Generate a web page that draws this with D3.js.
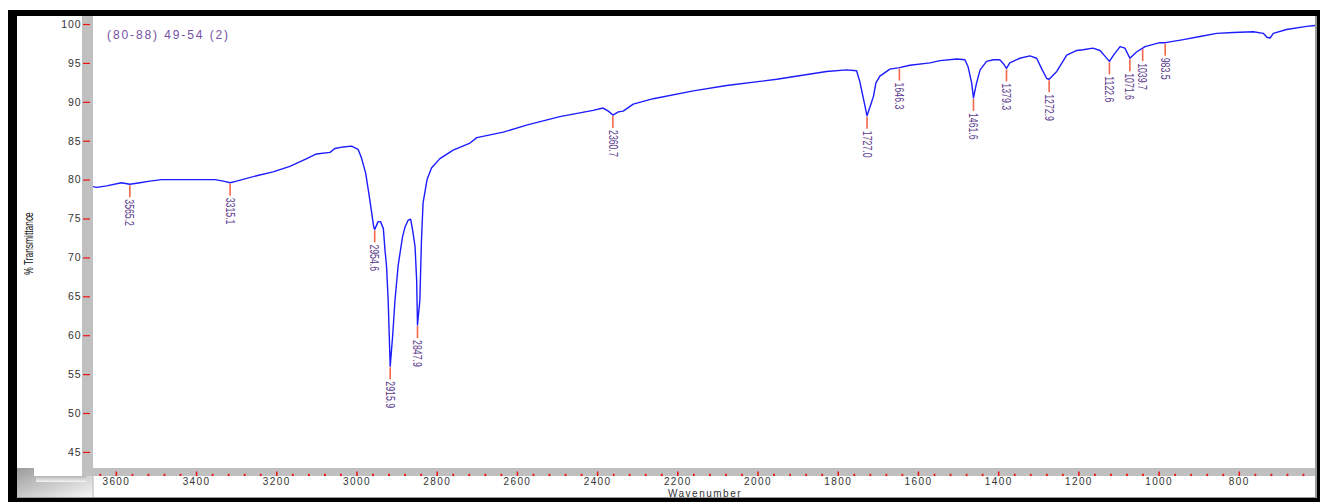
<!DOCTYPE html>
<html>
<head>
<meta charset="utf-8">
<script src="https://cdn.jsdelivr.net/npm/d3@7/dist/d3.min.js"></script>
<style>
  html, body { margin: 0; padding: 0; background: #fff; }
  svg { display: block; }
</style>
</head>
<body>
<svg id="chart" width="1320" height="502"></svg>
<script>
// FT-IR spectrum: wavenumber (cm-1) against % transmittance
const sampleName = "(80-88) 49-54 (2)";

const wavenumber = [
  3657, 3648, 3623, 3586, 3565.2, 3540, 3515, 3486, 3415, 3353, 3332, 3315.1, 3299,
  3249, 3208, 3166, 3124, 3100, 3066, 3054, 3033, 3012, 2996, 2987, 2977, 2968,
  2962, 2957, 2954.6, 2946, 2940, 2933, 2929, 2925, 2921, 2918, 2915.9, 2910, 2904,
  2896, 2885, 2879, 2871, 2865, 2860, 2854, 2850, 2847.9, 2842, 2838, 2834, 2824,
  2813, 2792, 2759, 2717, 2700, 2634, 2576, 2493, 2410, 2385, 2372, 2360.7, 2347,
  2335, 2310, 2260, 2160, 2077, 1952, 1828, 1778, 1753, 1745, 1736, 1727.0, 1718,
  1711, 1705, 1695, 1670, 1646.3, 1620, 1570, 1545, 1503, 1483, 1475, 1466, 1461.6,
  1454, 1445, 1429, 1412, 1396, 1387, 1379.3, 1371, 1346, 1321, 1304, 1292, 1279,
  1272.9, 1254, 1229, 1204, 1188, 1164, 1146, 1136, 1122.6, 1111, 1096, 1084, 1071.6,
  1055, 1039.7, 1034, 997, 983.5, 938, 897, 855, 814, 764, 739, 730, 722, 714, 681,
  631, 610
];

const transmittance = [
  79.1, 79.0, 79.2, 79.6, 79.4, 79.6, 79.8, 80.0, 80.0, 80.0, 79.8, 79.6, 79.8,
  80.5, 81.0, 81.7, 82.7, 83.3, 83.5, 84.0, 84.2, 84.3, 83.9, 82.7, 80.8, 77.8,
  75.7, 73.9, 73.6, 74.6, 74.6, 73.7, 71.0, 68.8, 64.5, 59.4, 56.0, 59.8, 64.5,
  69.0, 72.7, 73.9, 74.8, 74.9, 73.5, 71.4, 67.1, 61.3, 64.5, 72.2, 77.0, 80.0,
  81.5, 82.7, 83.8, 84.7, 85.4, 86.1, 87.0, 88.1, 88.9, 89.2, 88.8, 88.3, 88.7,
  88.8, 89.7, 90.4, 91.4, 92.1, 92.9, 93.9, 94.1, 94.0, 92.6, 90.4, 88.2, 89.6,
  90.7, 92.4, 93.3, 94.2, 94.4, 94.7, 95.0, 95.3, 95.5, 95.4, 94.5, 92.4, 90.5,
  92.4, 94.1, 95.2, 95.4, 95.4, 94.9, 94.3, 95.0, 95.6, 95.9, 95.6, 94.3, 93.0,
  92.9, 93.9, 96.0, 96.6, 96.7, 96.9, 96.6, 96.0, 95.2, 96.1, 97.1, 96.9, 95.6,
  96.4, 96.9, 97.1, 97.6, 97.6, 98.0, 98.4, 98.8, 98.9, 99.0, 98.8, 98.3, 98.2, 98.8, 99.3,
  99.7, 99.8
];

// Picked peaks (labelled positions)
const peakWavenumbers = [3565.2, 3315.1, 2954.6, 2915.9, 2847.9, 2360.7, 1727.0, 1646.3,
  1461.6, 1379.3, 1272.9, 1122.6, 1071.6, 1039.7, 983.5];
const peakLabels = ["3565.2", "3315.1", "2954.6", "2915.9", "2847.9", "2360.7", "1727.0", "1646.3",
  "1461.6", "1379.3", "1272.9", "1122.6", "1071.6", "1039.7", "983.5"];

// Axis ticks
const yTickValues = [45, 50, 55, 60, 65, 70, 75, 80, 85, 90, 95, 100];
const xMajorTicks = [3600, 3400, 3200, 3000, 2800, 2600, 2400, 2200, 2000, 1800, 1600, 1400, 1200, 1000, 800];
const xMinorTicks = [3640, 3560, 3520, 3480, 3440, 3360, 3320, 3280, 3240, 3160, 3120, 3080, 3040,
  2960, 2920, 2880, 2840, 2760, 2720, 2680, 2640, 2560, 2520, 2480, 2440, 2360, 2320, 2280, 2240,
  2160, 2120, 2080, 2040, 1960, 1920, 1880, 1840, 1760, 1720, 1680, 1640, 1560, 1520, 1480, 1440,
  1360, 1320, 1280, 1240, 1160, 1120, 1080, 1040, 960, 920, 880, 840, 760, 720, 680, 640];

const svg = d3.select("#chart");
const W = 1320, H = 502;
const plot = { left: 93, right: 1315, top: 16, bottom: 468 };

const x = d3.scaleLinear().domain([3657, 610]).range([plot.left, plot.right]);
const y = d3.scaleLinear().domain([42.93, 101.03]).range([plot.bottom, plot.top]);

const defs = svg.append("defs");
const shade = defs.append("linearGradient").attr("id", "cornerShade")
  .attr("x1", 0).attr("y1", 0).attr("x2", 1).attr("y2", 1);
shade.append("stop").attr("offset", "0%").attr("stop-color", "#9c9c9c");
shade.append("stop").attr("offset", "100%").attr("stop-color", "#f6f6f6");
const drop = defs.append("linearGradient").attr("id", "dropShade")
  .attr("x1", 0).attr("y1", 0).attr("x2", 0).attr("y2", 1);
drop.append("stop").attr("offset", "0%").attr("stop-color", "#b4b4b4");
drop.append("stop").attr("offset", "100%").attr("stop-color", "#f4f4f4");
defs.append("clipPath").attr("id", "plotClip").append("rect")
  .attr("x", plot.left).attr("y", plot.top)
  .attr("width", plot.right - plot.left).attr("height", plot.bottom - plot.top);

// Window frame
svg.append("rect").attr("width", W).attr("height", H).attr("fill", "#fff");
svg.append("rect").attr("x", 8).attr("y", 10).attr("width", W - 8).attr("height", H - 10).attr("fill", "#000");
svg.append("rect").attr("x", 17).attr("y", 16).attr("width", 1300).attr("height", 482).attr("fill", "#9a9a9a");
svg.append("rect").attr("x", 17).attr("y", 16).attr("width", 1298).attr("height", 481).attr("fill", "#fff");

// Lower-left corner shading and axis panels
svg.append("rect").attr("x", 17).attr("y", 468).attr("width", 76).attr("height", 29).attr("fill", "url(#cornerShade)");
svg.append("rect").attr("x", 34).attr("y", 16).attr("width", 48).attr("height", 460).attr("fill", "#fff");
svg.append("rect").attr("x", 36).attr("y", 476).attr("width", 50).attr("height", 6).attr("fill", "url(#dropShade)");
svg.append("rect").attr("x", 93).attr("y", 476).attr("width", plot.right - 93).attr("height", 21).attr("fill", "#fff");
svg.append("rect").attr("x", 92.5).attr("y", 476).attr("width", 1).attr("height", 21).attr("fill", "#b8b8b8");
svg.append("rect").attr("x", 82).attr("y", 16).attr("width", 11).attr("height", 460).attr("fill", "#c0c0c0");
svg.append("rect").attr("x", 82).attr("y", 468).attr("width", plot.right - 82).attr("height", 8).attr("fill", "#c0c0c0");

// Y axis
const yAxis = svg.append("g").attr("transform", "translate(90,0)")
  .call(d3.axisLeft(y).tickValues(yTickValues).tickSize(7).tickPadding(1.5));
yAxis.select(".domain").remove();
yAxis.selectAll(".tick line").attr("stroke", "#ee1111").attr("stroke-width", 1.2);
yAxis.selectAll(".tick text")
  .attr("font-family", "Liberation Sans, Arial, sans-serif")
  .attr("font-size", 10.5).attr("letter-spacing", 0.9).attr("fill", "#333");

// X axis: major ticks with labels, minor ticks as dots
const xAxis = svg.append("g").attr("transform", `translate(0,${476})`)
  .call(d3.axisBottom(x).tickValues(xMajorTicks).tickFormat(d3.format("d"))
    .tickSizeInner(-4.5).tickSizeOuter(0).tickPadding(1.8));
xAxis.select(".domain").remove();
xAxis.selectAll(".tick line").attr("stroke", "#ee1111").attr("stroke-width", 1.5);
xAxis.selectAll(".tick text")
  .attr("font-family", "Liberation Sans, Arial, sans-serif")
  .attr("font-size", 10).attr("letter-spacing", 1.4).attr("fill", "#333");

const xMinor = svg.append("g").attr("transform", `translate(0,${476})`)
  .call(d3.axisBottom(x).tickValues(xMinorTicks).tickSizeInner(-2.2).tickSizeOuter(0).tickFormat(""));
xMinor.select(".domain").remove();
xMinor.selectAll(".tick line").attr("stroke", "#ee1111").attr("stroke-width", 1.8);

svg.append("text").attr("x", 705).attr("y", 497).attr("text-anchor", "middle")
  .attr("font-family", "Liberation Sans, Arial, sans-serif")
  .attr("font-size", 10).attr("letter-spacing", 1.5).attr("fill", "#333")
  .text("Wavenumber");

svg.append("text")
  .attr("transform", "translate(28.5,243.5) rotate(-90) scale(0.7,1)")
  .attr("text-anchor", "middle").attr("dy", "0.35em")
  .attr("font-family", "Liberation Sans, Arial, sans-serif")
  .attr("font-size", 12).attr("fill", "#111")
  .text("% Transmittance");

// Sample title
svg.append("text").attr("x", 107).attr("y", 38.5)
  .attr("font-family", "Liberation Sans, Arial, sans-serif")
  .attr("font-size", 12).attr("letter-spacing", 1.9).attr("fill", "#7650a6")
  .text(sampleName);

// Spectrum
const spectrum = wavenumber.map((w, i) => ({ w, t: transmittance[i] }));
const line = d3.line().x(d => x(d.w)).y(d => y(d.t));
svg.append("g").attr("clip-path", "url(#plotClip)")
  .append("path").datum(spectrum)
  .attr("fill", "none").attr("stroke", "#1c1cff").attr("stroke-width", 1.4)
  .attr("stroke-linejoin", "round")
  .attr("d", line);

// Transmittance of the drawn spectrum at a given wavenumber
const bis = d3.bisector(d => -d.w).left;
function valueAt(w) {
  const i = bis(spectrum, -w);
  if (i <= 0) return spectrum[0].t;
  if (i >= spectrum.length) return spectrum[spectrum.length - 1].t;
  const a = spectrum[i - 1], b = spectrum[i];
  if (b.w === w) return b.t;
  const f = (a.w - w) / (a.w - b.w);
  return a.t + f * (b.t - a.t);
}

// Peak markers and labels
const peaks = svg.append("g");
peakWavenumbers.forEach((w, i) => {
  const px = x(w), py = y(valueAt(w));
  peaks.append("line")
    .attr("x1", px).attr("x2", px).attr("y1", py + 1).attr("y2", py + 13)
    .attr("stroke", "#f2674a").attr("stroke-width", 1.6);
  peaks.append("text")
    .attr("transform", `translate(${px},${py + 15}) rotate(90) scale(0.7,1)`)
    .attr("dy", "0.35em")
    .attr("font-family", "Liberation Sans, Arial, sans-serif")
    .attr("font-size", 12.5).attr("fill", "#5a3a8c")
    .text(peakLabels[i]);
});
</script>
</body>
</html>
